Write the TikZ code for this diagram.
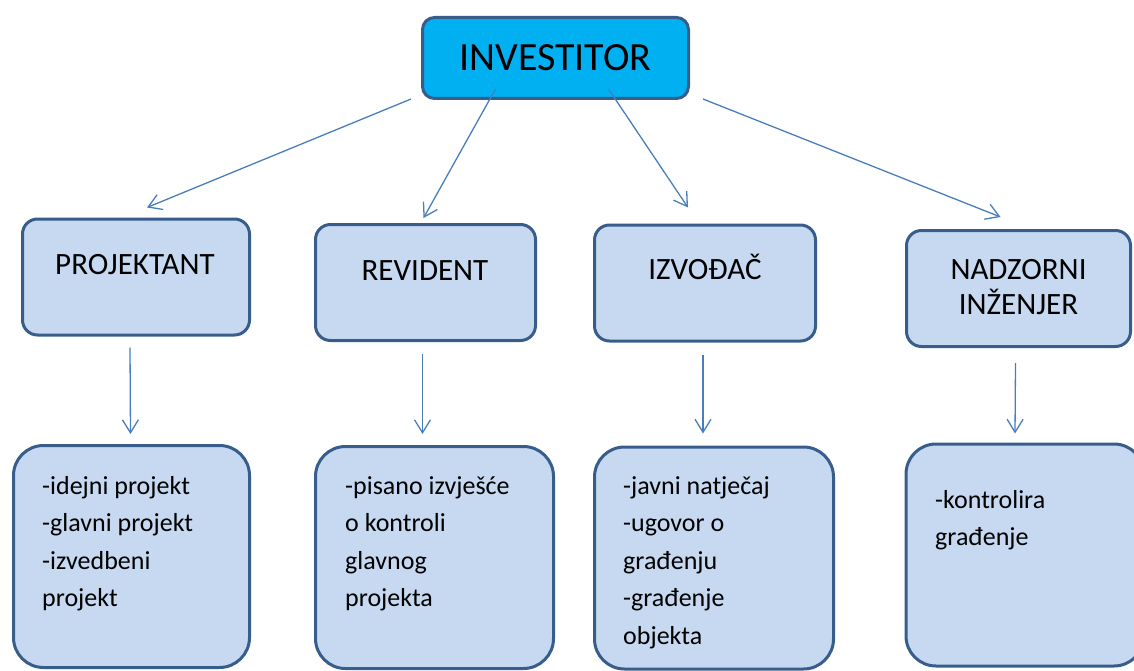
\documentclass[tikz,border=0pt]{standalone}
\usepackage{fontspec}
\setmainfont{Carlito}
\usetikzlibrary{arrows.meta}

\definecolor{invfill}{HTML}{00B0F0}
\definecolor{rolefill}{HTML}{C6D9F1}
\definecolor{boxline}{HTML}{385D8A}
\definecolor{arrowblue}{HTML}{4A7EBB}

\tikzset{
  topbox/.style={draw=boxline, line width=3pt, fill=invfill, rounded corners=12pt,
    minimum width=266pt, minimum height=81pt, inner sep=0pt,
    font=\fontsize{40}{48}\selectfont},
  rolebox/.style={draw=boxline, line width=3pt, fill=rolefill, rounded corners=15pt,
    minimum height=116pt, inner sep=0pt},
  listbox/.style={draw=boxline, line width=3pt, fill=rolefill, rounded corners=30pt,
    minimum height=222pt, inner sep=0pt},
  roletext/.style={inner sep=0pt, align=center, font=\fontsize{31}{35}\selectfont},
  listtext/.style={inner sep=0pt, anchor=north west, align=left,
    font=\fontsize{26}{37.5}\selectfont},
  arr/.style={draw=arrowblue, line width=1.3pt,
    -{Straight Barb[length=13pt,width=16pt,line width=1.3pt]}},
}

\begin{document}
\begin{tikzpicture}[x=1pt,y=-1pt]

    % velicina slike
    \useasboundingbox (0,0) rectangle (1134,671);

    % investitor
    \node[topbox] (inv) at (555.5,58) {INVESTITOR};

    % sudionici
    \node[rolebox, minimum width=227pt] (pro) at (136,277) {};
    \node[rolebox, minimum width=220pt] (rev) at (425.5,282.5) {};
    \node[rolebox, minimum width=221pt] (izv) at (705,283) {};
    \node[rolebox, minimum width=224pt] (nad) at (1018.5,288.5) {};

    \node[roletext, anchor=base] (protxt) at (135,274) {PROJEKTANT};
    \node[roletext, anchor=base] (revtxt) at (425,280) {REVIDENT};
    \node[roletext, anchor=base] (izvtxt) at (705,279) {IZVOĐAČ};
    \node[roletext, anchor=north] (nadtxt) at (1018.5,259) {NADZORNI\\INŽENJER};

    % poslovi
    \node[listbox, minimum width=236pt] (pos1) at (131.5,556.5) {};
    \node[listbox, minimum width=238pt] (pos2) at (434.5,557.5) {};
    \node[listbox, minimum width=239pt] (pos3) at (714,558) {};
    \node[listbox, minimum width=238pt] (pos4) at (1025,555) {};

    \node[listtext] (pos1txt) at (42,476) {-idejni projekt\\-glavni projekt\\-izvedbeni\\projekt};
    \node[listtext] (pos2txt) at (345,476) {-pisano izvješće\\o kontroli\\glavnog\\projekta};
    \node[listtext] (pos3txt) at (623,476) {-javni natječaj\\-ugovor o\\građenju\\-građenje\\objekta};
    \node[listtext] (pos4txt) at (935,490) {-kontrolira\\građenje};

    % strelice od investitora
    \draw[arr] ([shift={(-10,-1)}]inv.south west) -- ([shift={(11,-10)}]pro.north);
    \draw[arr] ([shift={(-60,-11)}]inv.south) -- ([shift={(-2,-5)}]rev.north);
    \draw[arr] ([shift={(53,-11)}]inv.south) -- ([shift={(-17,-16)}]izv.north);
    \draw[arr] ([shift={(13,-1)}]inv.south east) -- ([shift={(-18,-12)}]nad.north);

    % strelice prema poslovima
    \draw[arr] ([shift={(-6,11)}]pro.south) -- ([shift={(-1,-10)}]pos1.north);
    \draw[arr] ([shift={(-3,12)}]rev.south) -- ([shift={(-12,-11)}]pos2.north);
    \draw[arr] ([shift={(-2,12)}]izv.south) -- ([shift={(-11,-12)}]pos3.north);
    \draw[arr] ([shift={(-3,15)}]nad.south) -- ([shift={(-10,-9)}]pos4.north);

\end{tikzpicture}
\end{document}
